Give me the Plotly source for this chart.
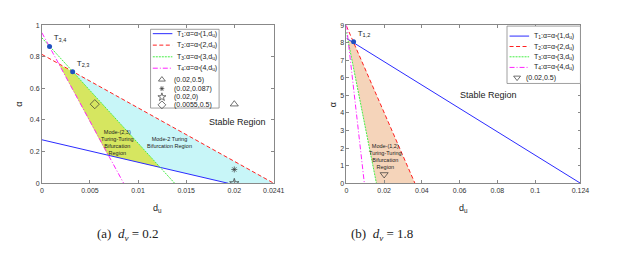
import plotly.graph_objects as go

# ---------------- data: panel (a) d_v = 0.2 ----------------
a_T1_x = [0, 0.01935]; a_T1_y = [0.275, 0]
a_T2_x = [0, 0.0241];  a_T2_y = [0.815, 0]
a_T3_x = [0, 0.0138];  a_T3_y = [0.92, 0]
a_T4_x = [0, 0.0085];  a_T4_y = [0.952, 0]
a_yellow_x = [0.0018, 0.0032, 0.0123, 0.00683]
a_yellow_y = [0.75, 0.707, 0.100, 0.178]
a_cyan_x = [0.0032, 0.0241, 0.01935, 0.0123]
a_cyan_y = [0.707, 0, 0, 0.100]
a_pts_x = [0.0008, 0.0032]; a_pts_y = [0.865, 0.705]
a_pts_lbl = ["T<sub>3,4</sub>", "T<sub>2,3</sub>"]
a_marks = [  # (x, y, symbol, label)
    (0.02, 0.5, "triangle-up-open", "(0.02,0.5)"),
    (0.02, 0.087, "asterisk-open", "(0.02,0.087)"),
    (0.02, 0.0, "star-open", "(0.02,0)"),
    (0.0055, 0.5, "diamond-open", "(0.0055,0.5)"),
]
a_xticks = [0, 0.005, 0.01, 0.015, 0.02, 0.0241]
a_yticks = [0, 0.2, 0.4, 0.6, 0.8, 1]

# ---------------- data: panel (b) d_v = 1.8 ----------------
b_T1_x = [0, 0.124];  b_T1_y = [8.25, 0]
b_T2_x = [0, 0.0363]; b_T2_y = [8.95, 0]
b_T3_x = [0, 0.0159]; b_T3_y = [8.6, 0]
b_T4_x = [0, 0.0095]; b_T4_y = [9.0, 0]
b_orange_x = [0.00074, 0.0038, 0.0363, 0.0159]
b_orange_y = [8.2, 8.02, 0, 0]
b_pts_x = [0.0038]; b_pts_y = [8.05]
b_pts_lbl = ["T<sub>1,2</sub>"]
b_marks = [(0.02, 0.5, "triangle-down-open", "(0.02,0.5)")]
b_xticks = [0, 0.02, 0.04, 0.06, 0.08, 0.1, 0.124]
b_yticks = list(range(10))

leg_names = ["T<sub>1</sub>:α=α<sub>*</sub>(1,d<sub>u</sub>)",
             "T<sub>2</sub>:α=α<sub>*</sub>(2,d<sub>u</sub>)",
             "T<sub>3</sub>:α=α<sub>*</sub>(3,d<sub>u</sub>)",
             "T<sub>4</sub>:α=α<sub>*</sub>(4,d<sub>u</sub>)"]
line_styles = [("#2B2BFF", "solid"), ("#FF2020", "4px,2.5px"),
               ("#44EE44", "2px,1px"), ("#FF22FF", "5px,2px,1px,2px")]

SANS = "Liberation Sans, Arial, sans-serif"
MARK_COL = "#333"
fig = go.Figure()

def mark_style(sym, size):
    sz = size - 2 if sym.startswith("asterisk") else size
    return dict(symbol=sym, size=sz, color=MARK_COL, line=dict(color=MARK_COL, width=0.7))

def panel(xa, ya, Ts, fills, pts_x, pts_y, pts_lbl, marks):
    for fx, fy, col in fills:
        fig.add_trace(go.Scatter(x=fx, y=fy, fill="toself", fillcolor=col, mode="none",
                                 showlegend=False, xaxis=xa, yaxis=ya, hoverinfo="skip"))
    for (tx, ty), (col, dash) in zip(Ts, line_styles):
        fig.add_trace(go.Scatter(x=tx, y=ty, mode="lines", showlegend=False,
                                 line=dict(color=col, dash=dash, width=1),
                                 xaxis=xa, yaxis=ya))
    fig.add_trace(go.Scatter(x=pts_x, y=pts_y, mode="markers+text", text=pts_lbl,
                             textposition="top right", textfont=dict(size=8, color="#222"),
                             marker=dict(color="#2050C0", size=5), showlegend=False,
                             xaxis=xa, yaxis=ya))
    for mx, my, sym, lbl in marks:
        fig.add_trace(go.Scatter(x=[mx], y=[my], mode="markers", showlegend=False,
                                 marker=mark_style(sym, 7), xaxis=xa, yaxis=ya))

panel("x", "y",
      [(a_T1_x, a_T1_y), (a_T2_x, a_T2_y), (a_T3_x, a_T3_y), (a_T4_x, a_T4_y)],
      [(a_cyan_x, a_cyan_y, "#C8F6F8"), (a_yellow_x, a_yellow_y, "#D6E660")],
      a_pts_x, a_pts_y, a_pts_lbl, a_marks)
panel("x2", "y2",
      [(b_T1_x, b_T1_y), (b_T2_x, b_T2_y), (b_T3_x, b_T3_y), (b_T4_x, b_T4_y)],
      [(b_orange_x, b_orange_y, "#F5D4BA")],
      b_pts_x, b_pts_y, b_pts_lbl, b_marks)

# ---------------- custom compact legends (pixel overlay axis x3/y3) ----------------
def legend_box(x0, x1, y0, y1, line_x0, line_x1, text_x, line_rows, mark_x, mark_text_x,
               mark_rows, marks):
    fig.add_trace(go.Scatter(x=[x0, x1, x1, x0, x0], y=[y0, y0, y1, y1, y0], mode="lines",
                             fill="toself", fillcolor="white", line=dict(color="#888", width=0.8),
                             showlegend=False, xaxis="x3", yaxis="y3", hoverinfo="skip"))
    for row, name, (col, dash) in zip(line_rows, leg_names, line_styles):
        fig.add_trace(go.Scatter(x=[line_x0, line_x1], y=[row, row], mode="lines",
                                 line=dict(color=col, dash=dash, width=1), showlegend=False,
                                 xaxis="x3", yaxis="y3", hoverinfo="skip"))
        fig.add_annotation(text=name, x=text_x, y=row, xref="x3", yref="y3", showarrow=False,
                           xanchor="left", yanchor="middle",
                           font=dict(size=7, family=SANS, color="#222"))
    for row, (_, _, sym, lbl) in zip(mark_rows, marks):
        fig.add_trace(go.Scatter(x=[mark_x], y=[row], mode="markers", showlegend=False,
                                 marker=mark_style(sym, 6),
                                 xaxis="x3", yaxis="y3", hoverinfo="skip"))
        fig.add_annotation(text=lbl, x=mark_text_x, y=row, xref="x3", yref="y3",
                           showarrow=False, xanchor="left", yanchor="middle",
                           font=dict(size=7, family=SANS, color="#222"))

legend_box(151.7, 221.7, 26, 107, 154, 174, 176.5, [30.5, 42.3, 54.3, 66.0],
           163.3, 174, [77.7, 87.0, 95.7, 103.7], a_marks)
legend_box(515.7, 590.7, 22.7, 81.7, 518.3, 538.3, 541.5, [33, 43.7, 54.3, 65.2],
           526, 533.3, [75.7], b_marks)

ax_common = dict(showline=True, linecolor="#888", linewidth=0.8, mirror="ticks",
                 ticks="inside", ticklen=3, tickcolor="#888", showgrid=False, zeroline=False,
                 tickfont=dict(size=7, color="#333", family=SANS))
top_y = (255 - 21.7) / 255
bot_y = (255 - 184.3) / 255
fig.update_layout(
    width=627, height=255, margin=dict(l=0, r=0, t=0, b=0),
    paper_bgcolor="white", plot_bgcolor="rgba(0,0,0,0)", showlegend=False,
    font=dict(family=SANS, color="#222"),
    xaxis=dict(domain=[40.7 / 627, 277.5 / 627], range=[0, 0.0241], tickvals=a_xticks,
               ticktext=[str(v) for v in a_xticks], anchor="y", **ax_common),
    yaxis=dict(domain=[bot_y, top_y], range=[0, 1], tickvals=a_yticks,
               ticktext=["0", "0.2", "0.4", "0.6", "0.8", "1"], anchor="x", **ax_common),
    xaxis2=dict(domain=[351.7 / 627, 590.7 / 627], range=[0, 0.124], tickvals=b_xticks,
                ticktext=[str(v) for v in b_xticks], anchor="y2", **ax_common),
    yaxis2=dict(domain=[bot_y, top_y], range=[0, 9], tickvals=b_yticks,
                ticktext=[str(v) for v in b_yticks], anchor="x2", **ax_common),
    xaxis3=dict(domain=[0, 1], range=[0, 627], visible=False, fixedrange=True, anchor="y3"),
    yaxis3=dict(domain=[0, 1], range=[255, 0], visible=False, fixedrange=True, anchor="x3"),
)

def ann(text, x, y, xref, yref, size, **kw):
    fig.add_annotation(text=text, x=x, y=y, xref=xref, yref=yref, showarrow=False,
                       xanchor="center", yanchor="middle",
                       font=dict(size=size, family=kw.pop("family", SANS), color="#222"), **kw)

ann("Stable Region", 0.0203, 0.385, "x", "y", 9)
ann("Mode-(2,3)<br>Turing-Turing<br>Bifurcation<br>Region", 0.0079, 0.26, "x", "y", 5.5)
ann("Mode-2 Turing<br>Bifurcation Region", 0.0133, 0.26, "x", "y", 5.5)
ann("Stable Region", 0.0755, 5.05, "x2", "y2", 9)
ann("Mode-(1,2)<br>Turing-Turing<br>Bifurcation<br>Region", 0.0208, 1.55, "x2", "y2", 5.5)
ann("d<sub>u</sub>", 159 / 627, (255 - 210) / 255, "paper", "paper", 9)
ann("d<sub>u</sub>", 471 / 627, (255 - 210) / 255, "paper", "paper", 9)
ann("α", 18 / 627, (255 - 103) / 255, "paper", "paper", 9, textangle=-90)
ann("α", 338 / 627, (255 - 103) / 255, "paper", "paper", 9, textangle=-90)
ann("(a)  <i>d<sub>v</sub></i> = 0.2", 129 / 627, (255 - 237) / 255, "paper", "paper", 13,
    family="Liberation Serif, Times New Roman, serif")
ann("(b)  <i>d<sub>v</sub></i> = 1.8", 388 / 627, (255 - 237) / 255, "paper", "paper", 13,
    family="Liberation Serif, Times New Roman, serif")

fig.write_html("out.html", config={"displayModeBar": False},
               post_script="document.body.style.margin='0';document.body.style.padding='0';"
                           "document.body.style.overflow='hidden';")
